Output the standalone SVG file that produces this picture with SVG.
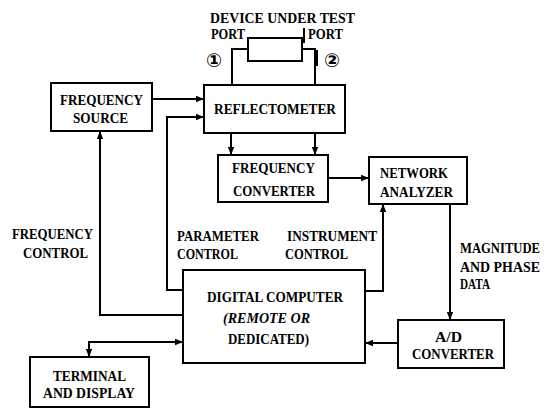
<svg xmlns="http://www.w3.org/2000/svg" width="552" height="408" viewBox="0 0 552 408">
<style>
.box{fill:#fff;stroke:#000;stroke-width:2}
.ln{fill:none;stroke:#000;stroke-width:2}
text{font-family:"Liberation Serif","DejaVu Serif",serif;font-size:15px;font-weight:bold;fill:#000}
.it{font-style:italic}
.sm{font-size:14px}
.circ{font-family:"DejaVu Sans",sans-serif;font-size:19px;font-weight:bold}
</style>
<defs>
<marker id="ah" viewBox="0 0 10 10" refX="10" refY="5" markerWidth="4" markerHeight="4" orient="auto" markerUnits="strokeWidth">
<path d="M0,1 L10,5 L0,9 z" fill="#000"/>
</marker>
</defs>
<rect width="552" height="408" fill="#fff"/>
<g id="connectors">
<path class="ln" d="M248,49 H232 V85"/>
<path class="ln" d="M302,49 H315 V85"/>
<path class="ln" d="M317,50 V66"/>
<path class="ln" d="M304,28 V43"/>
<path class="ln" d="M152,99 H204" marker-end="url(#ah)"/>
<path class="ln" d="M183,290 H167 V117 H204" marker-end="url(#ah)"/>
<path class="ln" d="M183,315 H100 V131" marker-end="url(#ah)"/>
<path class="ln" d="M231,133 V155" marker-end="url(#ah)"/>
<path class="ln" d="M315,133 V155" marker-end="url(#ah)"/>
<path class="ln" d="M328,178 H369" marker-end="url(#ah)"/>
<path class="ln" d="M365,291 H383 V204" marker-end="url(#ah)"/>
<path class="ln" d="M450,204 V320" marker-end="url(#ah)"/>
<path class="ln" d="M398,343 H365" marker-end="url(#ah)"/>
<path class="ln" d="M89,342 H183" marker-end="url(#ah)"/>
<path class="ln" d="M183,342 H89 V357" marker-end="url(#ah)"/>
</g>
<g id="dut">
<rect class="box" x="248" y="38" width="54" height="23"/>
<text x="210" y="23" textLength="145" lengthAdjust="spacingAndGlyphs">DEVICE UNDER TEST</text>
<text x="211" y="39" textLength="34" lengthAdjust="spacingAndGlyphs">PORT</text>
<text x="308" y="39" textLength="35" lengthAdjust="spacingAndGlyphs">PORT</text>
<text class="circ" x="214" y="67" text-anchor="middle">①</text>
<text class="circ" x="332" y="67" text-anchor="middle">②</text>
</g>
<g id="frequency-source">
<rect class="box" x="51" y="83" width="101" height="48"/>
<text x="60" y="104.5" textLength="83" lengthAdjust="spacingAndGlyphs">FREQUENCY</text>
<text x="73" y="122.5" textLength="55" lengthAdjust="spacingAndGlyphs">SOURCE</text>
</g>
<g id="reflectometer">
<rect class="box" x="204" y="85" width="141" height="48"/>
<text x="214" y="113.5" textLength="122" lengthAdjust="spacingAndGlyphs">REFLECTOMETER</text>
</g>
<g id="frequency-converter">
<rect class="box" x="218" y="155" width="110" height="47"/>
<text x="232" y="172.5" textLength="83" lengthAdjust="spacingAndGlyphs">FREQUENCY</text>
<text x="233" y="195.5" textLength="82" lengthAdjust="spacingAndGlyphs">CONVERTER</text>
</g>
<g id="network-analyzer">
<rect class="box" x="369" y="157" width="98" height="47"/>
<text x="380" y="177.5" textLength="68" lengthAdjust="spacingAndGlyphs">NETWORK</text>
<text x="380" y="196.5" textLength="73" lengthAdjust="spacingAndGlyphs">ANALYZER</text>
</g>
<g id="digital-computer">
<rect class="box" x="183" y="270" width="182" height="93"/>
<text x="207" y="301.5" textLength="136" lengthAdjust="spacingAndGlyphs">DIGITAL COMPUTER</text>
<text class="it" x="223" y="322.5" textLength="87" lengthAdjust="spacingAndGlyphs">(REMOTE OR</text>
<text x="228" y="343.5" textLength="81" lengthAdjust="spacingAndGlyphs">DEDICATED)</text>
</g>
<g id="ad-converter">
<rect class="box" x="398" y="320" width="106" height="48"/>
<text x="435" y="341.5" textLength="27" lengthAdjust="spacingAndGlyphs">A/D</text>
<text x="412" y="358.5" textLength="82" lengthAdjust="spacingAndGlyphs">CONVERTER</text>
</g>
<g id="terminal">
<rect class="box" x="30" y="357" width="119" height="50"/>
<text x="53" y="380.5" textLength="73" lengthAdjust="spacingAndGlyphs">TERMINAL</text>
<text x="43" y="397.5" textLength="92" lengthAdjust="spacingAndGlyphs">AND DISPLAY</text>
</g>
<g id="labels">
<text x="12" y="238.5" textLength="81" lengthAdjust="spacingAndGlyphs">FREQUENCY</text>
<text x="23" y="257.5" textLength="65" lengthAdjust="spacingAndGlyphs">CONTROL</text>
<text x="177" y="240.5" textLength="82" lengthAdjust="spacingAndGlyphs">PARAMETER</text>
<text x="177" y="258.5" textLength="61" lengthAdjust="spacingAndGlyphs">CONTROL</text>
<text x="287" y="240.5" textLength="90" lengthAdjust="spacingAndGlyphs">INSTRUMENT</text>
<text x="285" y="258.5" textLength="63" lengthAdjust="spacingAndGlyphs">CONTROL</text>
<text class="sm" x="460" y="252.5" textLength="80" lengthAdjust="spacingAndGlyphs">MAGNITUDE</text>
<text class="sm" x="460" y="271.5" textLength="80" lengthAdjust="spacingAndGlyphs">AND PHASE</text>
<text class="sm" x="460" y="288.5" textLength="30" lengthAdjust="spacingAndGlyphs">DATA</text>
</g>
</svg>
